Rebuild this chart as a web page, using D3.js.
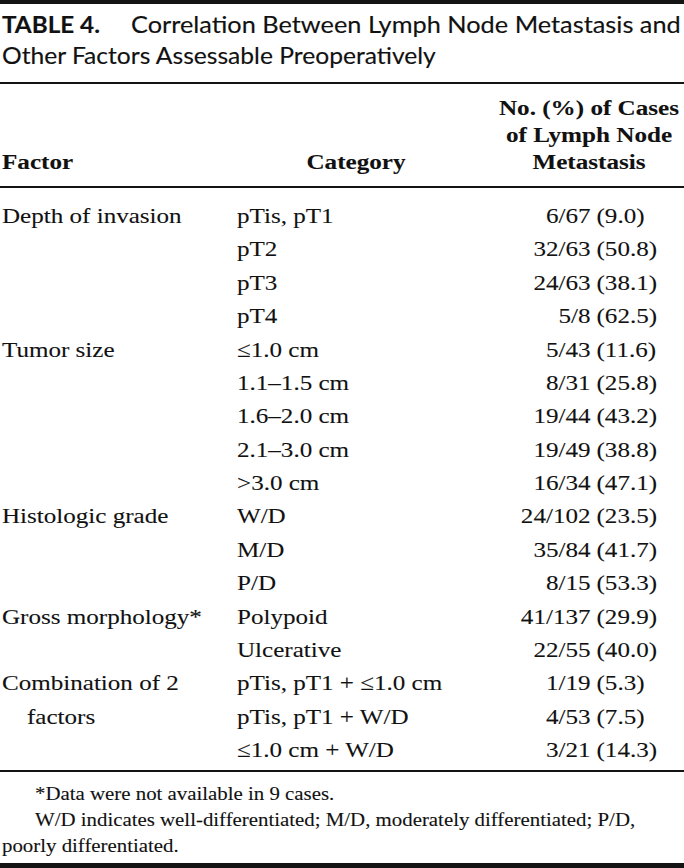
<!DOCTYPE html>
<html><head><meta charset="utf-8">
<script src="https://cdn.jsdelivr.net/npm/d3@7"></script>
<style>body{margin:0;background:#fff}svg{display:block}</style>
</head><body>
<script>
// ---- data ----
const titleBold = "TABLE 4.";
const titleLines = ["Correlation Between Lymph Node Metastasis and", "Other Factors Assessable Preoperatively"];
const headerFactor = "Factor";
const headerCategory = "Category";
const headerValue = ["No. (%) of Cases", "of Lymph Node", "Metastasis"];
const factorLines = [["Depth of invasion"], ["Tumor size"], ["Histologic grade"], ["Gross morphology*"], ["Combination of 2", "factors"]];
const factorSizes = [4, 5, 3, 2, 3];
const categories = ["pTis, pT1", "pT2", "pT3", "pT4",
  "\u22641.0 cm", "1.1\u20131.5 cm", "1.6\u20132.0 cm", "2.1\u20133.0 cm", ">3.0 cm",
  "W/D", "M/D", "P/D",
  "Polypoid", "Ulcerative",
  "pTis, pT1 + \u22641.0 cm", "pTis, pT1 + W/D", "\u22641.0 cm + W/D"];
const positives = [6, 32, 24, 5, 5, 8, 19, 19, 16, 24, 35, 8, 41, 22, 1, 4, 3];
const totals = [67, 63, 63, 8, 43, 31, 44, 49, 34, 102, 84, 15, 137, 55, 19, 53, 21];
const percents = ["9.0", "50.8", "38.1", "62.5", "11.6", "25.8", "43.2", "38.8", "47.1", "23.5", "41.7", "53.3", "29.9", "40.0", "5.3", "7.5", "14.3"];
const footnotes = ["*Data were not available in 9 cases.",
  "W/D indicates well-differentiated; M/D, moderately differentiated; P/D,",
  "poorly differentiated."];

// ---- drawing ----
const W = 684, H = 868;
const INK = "#111";
const SERIF = "'Liberation Serif','Times New Roman',serif";
const SANS = "Lato,'Open Sans',sans-serif";
const SX = 1.14;

const svg = d3.select("body").append("svg").attr("width", W).attr("height", H);
svg.append("rect").attr("width", W).attr("height", H).attr("fill", "#fff");

function txt(s, x, y, o) {
  o = o || {};
  return svg.append("text")
    .attr("transform", `translate(${x},${y}) scale(${o.sx || SX},1)`)
    .attr("text-anchor", o.anchor || "start")
    .attr("font-family", o.family || SERIF)
    .attr("font-size", o.size || 22)
    .attr("font-weight", o.weight || "normal")
    .attr("fill", INK)
    .attr("stroke", INK)
    .attr("stroke-width", o.stroke == null ? 0.1 : o.stroke)
    .text(s);
}

// rules
const rules = [[0, 4], [82, 2], [186, 2], [770, 2], [863, 5]];
svg.selectAll("rect.rule").data(rules).join("rect").attr("class", "rule")
  .attr("x", 0).attr("width", W).attr("y", d => d[0]).attr("height", d => d[1]).attr("fill", "#141414");

// title (fit each line to the measured span in the reference)
function natural(s, weight) {
  const p = txt(s, 0, -100, {family: SANS, size: 23, sx: 1, weight: weight});
  const n = p.node().getComputedTextLength();
  p.remove();
  return n;
}
const sx1 = 550 / natural(titleLines[0]);
const sx2 = 434 / natural(titleLines[1]);
const sxB = 98 / natural(titleBold, "bold");
txt(titleBold, 2, 33, {family: SANS, size: 23, weight: "bold", sx: sxB, stroke: 0.15});
txt(titleLines[0], 131, 33, {family: SANS, size: 23, sx: sx1, stroke: 0.15});
txt(titleLines[1], 2, 64, {family: SANS, size: 23, sx: sx2, stroke: 0.15});

// header
const hy = d3.scalePoint().domain(d3.range(headerValue.length)).range([115, 169]);
headerValue.forEach((s, i) => txt(s, 589, hy(i), {anchor: "middle", weight: "bold", size: 21.5, sx: 1.17, stroke: 0.1}));
txt(headerFactor, 2, 169, {weight: "bold", size: 21.5, sx: 1.17, stroke: 0.1});
txt(headerCategory, 356, 169, {anchor: "middle", weight: "bold", size: 21.5, sx: 1.17, stroke: 0.1});

// rows
const y = d3.scalePoint().domain(d3.range(categories.length)).range([223, 757]);
let start = 0;
factorLines.forEach((lines, k) => {
  lines.forEach((s, j) => txt(s, j === 0 ? 2 : 27, y(start + j)));
  start += factorSizes[k];
});
categories.forEach((c, i) => {
  txt(c, 237, y(i));
  txt(`${positives[i]}/${totals[i]}`, 590.5, y(i), {anchor: "end"});
  txt(`(${percents[i]})`, 596.5, y(i));
});

// footnotes
const fy = d3.scalePoint().domain(d3.range(footnotes.length)).range([800, 852]);
footnotes.forEach((s, i) => txt(s, i < 2 ? 35 : 2, fy(i), {size: 18.3, stroke: 0.1}));
</script>
</body></html>
